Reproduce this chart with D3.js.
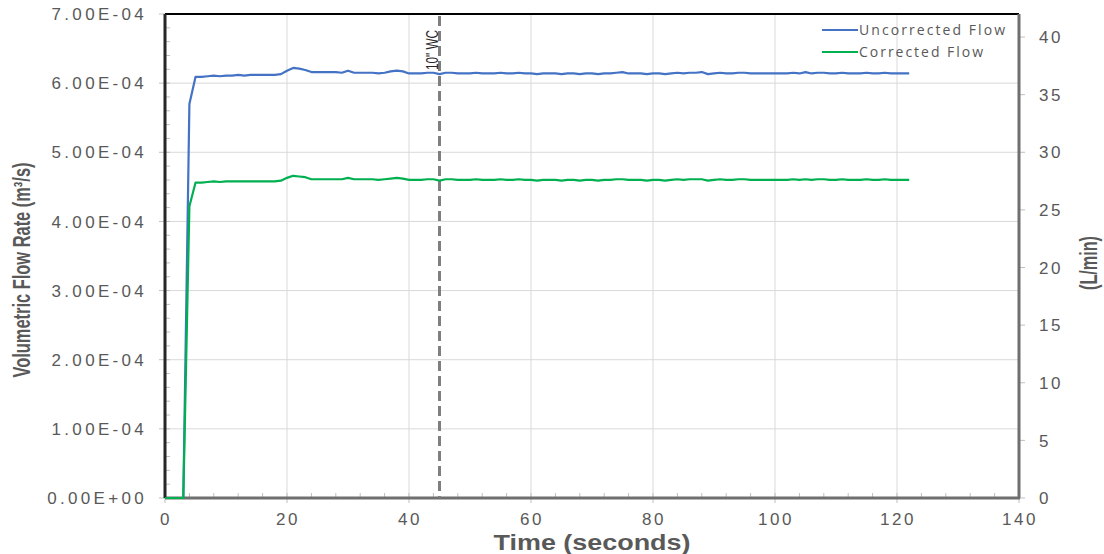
<!DOCTYPE html>
<html>
<head>
<meta charset="utf-8">
<script src="https://cdn.jsdelivr.net/npm/d3@7"></script>
<style>
  html, body { margin: 0; padding: 0; background: #fff; }
  svg { display: block; }
</style>
</head>
<body>
<svg id="chart" width="1104" height="554"></svg>
<script>
// ---- Data (flow in units of 1e-4 m^3/s, sampled each second) ----
const time = d3.range(0, 123);
const uncorrected = [
  0, 0, 0, 0, 5.70,
  6.09, 6.09, 6.10, 6.11, 6.10, 6.11, 6.11, 6.12, 6.11, 6.12, 6.12, 6.12, 6.12, 6.12, 6.13,
  6.18, 6.22, 6.21, 6.19, 6.16, 6.16, 6.16, 6.16, 6.16, 6.15,
  6.18, 6.15, 6.15, 6.15, 6.15, 6.14, 6.15, 6.17, 6.18, 6.17,
  6.14, 6.14, 6.14, 6.15, 6.15, 6.13, 6.15, 6.15, 6.14, 6.14,
  6.14, 6.15, 6.14, 6.14, 6.14, 6.15, 6.14, 6.14, 6.15, 6.14,
  6.14, 6.13, 6.14, 6.14, 6.14, 6.13, 6.14, 6.14, 6.13, 6.14,
  6.14, 6.13, 6.14, 6.14, 6.15, 6.16, 6.14, 6.14, 6.14, 6.13,
  6.14, 6.14, 6.13, 6.14, 6.15, 6.14, 6.15, 6.15, 6.16, 6.13,
  6.14, 6.15, 6.14, 6.14, 6.15, 6.15, 6.14, 6.14, 6.14, 6.14,
  6.14, 6.14, 6.14, 6.15, 6.14, 6.16, 6.14, 6.15, 6.15, 6.14,
  6.14, 6.15, 6.14, 6.14, 6.14, 6.15, 6.14, 6.14, 6.15, 6.14,
  6.14, 6.14, 6.14
];
const corrected = [
  0, 0, 0, 0, 4.22,
  4.56, 4.56, 4.57, 4.58, 4.57, 4.58, 4.58, 4.58, 4.58, 4.58, 4.58, 4.58, 4.58, 4.58, 4.59,
  4.63, 4.66, 4.65, 4.64, 4.61, 4.61, 4.61, 4.61, 4.61, 4.61,
  4.63, 4.61, 4.61, 4.61, 4.61, 4.60, 4.61, 4.62, 4.63, 4.62,
  4.60, 4.60, 4.60, 4.61, 4.61, 4.59, 4.61, 4.61, 4.60, 4.60,
  4.60, 4.61, 4.60, 4.60, 4.60, 4.61, 4.60, 4.60, 4.61, 4.60,
  4.60, 4.59, 4.60, 4.60, 4.60, 4.59, 4.60, 4.60, 4.59, 4.60,
  4.60, 4.59, 4.60, 4.60, 4.61, 4.61, 4.60, 4.60, 4.60, 4.59,
  4.60, 4.60, 4.59, 4.60, 4.61, 4.60, 4.61, 4.61, 4.61, 4.59,
  4.60, 4.61, 4.60, 4.60, 4.61, 4.61, 4.60, 4.60, 4.60, 4.60,
  4.60, 4.60, 4.60, 4.61, 4.60, 4.61, 4.60, 4.61, 4.61, 4.60,
  4.60, 4.61, 4.60, 4.60, 4.60, 4.61, 4.60, 4.60, 4.61, 4.60,
  4.60, 4.60, 4.60
];
const seriesNames = ["Uncorrected Flow", "Corrected Flow"];
const leftTicks = [0, 1, 2, 3, 4, 5, 6, 7];                 // ×1e-4
const leftTickLabels = ["0.00E+00","1.00E-04","2.00E-04","3.00E-04","4.00E-04","5.00E-04","6.00E-04","7.00E-04"];
const rightTicks = [0, 5, 10, 15, 20, 25, 30, 35, 40];      // L/min
const xTicks = [0, 20, 40, 60, 80, 100, 120, 140];
const markerTime = 45;
const markerLabel = "10\" WC";

// ---- Layout ----
const L = 165, R = 1019, T = 14, B = 498;
const svg = d3.select("#chart");
const x = d3.scaleLinear().domain([0, 140]).range([L, R]);
const y = d3.scaleLinear().domain([0, 7]).range([B, T]);
const y2 = d3.scaleLinear().domain([0, 42]).range([B, T]);

const textCol = "#595959";
const tickFont = "Liberation Sans, Arial, sans-serif";

// gridlines
svg.append("g").selectAll("line").data(xTicks.slice(1, -1)).join("line")
  .attr("x1", d => x(d)).attr("x2", d => x(d)).attr("y1", T).attr("y2", B)
  .attr("stroke", "#d9d9d9").attr("stroke-width", 1);
svg.append("g").selectAll("line").data(leftTicks.slice(1, -1)).join("line")
  .attr("x1", L).attr("x2", R).attr("y1", d => y(d)).attr("y2", d => y(d))
  .attr("stroke", "#d9d9d9").attr("stroke-width", 1);

// minor ticks
const yMinor = d3.range(0, 7.0001, 0.2).filter(v => Math.abs(v - Math.round(v)) > 1e-6);
svg.append("g").selectAll("line").data(yMinor).join("line")
  .attr("x1", L).attr("x2", L + 5).attr("y1", d => y(d)).attr("y2", d => y(d))
  .attr("stroke", "#bfbfbf").attr("stroke-width", 1);
const xMinor = d3.range(0, 140.001, 4).filter(v => v % 20 !== 0);
svg.append("g").selectAll("line").data(xMinor).join("line")
  .attr("x1", d => x(d)).attr("x2", d => x(d)).attr("y1", B).attr("y2", B - 5)
  .attr("stroke", "#bfbfbf").attr("stroke-width", 1);

// major ticks
svg.append("g").selectAll("line").data(leftTicks).join("line")
  .attr("x1", L - 6).attr("x2", L + 5).attr("y1", d => y(d)).attr("y2", d => y(d))
  .attr("stroke", "#bfbfbf").attr("stroke-width", 1);
svg.append("g").selectAll("line").data(xTicks).join("line")
  .attr("x1", d => x(d)).attr("x2", d => x(d)).attr("y1", B - 5).attr("y2", B + 5)
  .attr("stroke", "#bfbfbf").attr("stroke-width", 1);
svg.append("g").selectAll("line").data(rightTicks).join("line")
  .attr("x1", R).attr("x2", R + 6).attr("y1", d => y2(d)).attr("y2", d => y2(d))
  .attr("stroke", "#bfbfbf").attr("stroke-width", 1);

// plot border
svg.append("line").attr("x1", L).attr("x2", R).attr("y1", T).attr("y2", T)
  .attr("stroke", "#000").attr("stroke-width", 2);
svg.append("line").attr("x1", R).attr("x2", R).attr("y1", T).attr("y2", B)
  .attr("stroke", "#6f6f6f").attr("stroke-width", 3);
svg.append("line").attr("x1", L).attr("x2", R + 1).attr("y1", B).attr("y2", B)
  .attr("stroke", "#6f6f6f").attr("stroke-width", 3);
svg.append("line").attr("x1", L).attr("x2", L).attr("y1", T).attr("y2", B)
  .attr("stroke", "#262626").attr("stroke-width", 3);

// tick labels
svg.append("g").selectAll("text").data(leftTicks).join("text")
  .attr("x", 147).attr("y", d => y(d)).attr("dy", "0.36em")
  .attr("text-anchor", "end")
  .style("font-family", tickFont).style("font-size", "17px").style("letter-spacing", "3.3px")
  .attr("fill", textCol).text((d, i) => leftTickLabels[i]);
svg.append("g").selectAll("text").data(xTicks).join("text")
  .attr("x", d => x(d) + 1).attr("y", 525)
  .attr("text-anchor", "middle")
  .style("font-family", tickFont).style("font-size", "17px").style("letter-spacing", "2.6px")
  .attr("fill", textCol).text(d => d);
svg.append("g").selectAll("text").data(rightTicks).join("text")
  .attr("x", 1039).attr("y", d => y2(d)).attr("dy", "0.36em")
  .attr("text-anchor", "start")
  .style("font-family", tickFont).style("font-size", "17px").style("letter-spacing", "2.6px")
  .attr("fill", textCol).text(d => d);

// axis titles
const boldFont = "'Liberation Sans', Arial, sans-serif";
svg.append("text")
  .attr("transform", "translate(30,270) rotate(-90)")
  .attr("text-anchor", "middle")
  .style("font-family", boldFont).style("font-weight", "bold").style("font-size", "23px")
  .attr("textLength", 215).attr("lengthAdjust", "spacingAndGlyphs")
  .attr("fill", textCol)
  .text("Volumetric Flow Rate (m³/s)");
svg.append("text")
  .attr("transform", "translate(1097,263) rotate(-90)")
  .attr("text-anchor", "middle")
  .style("font-family", boldFont).style("font-weight", "bold").style("font-size", "23px")
  .attr("textLength", 54).attr("lengthAdjust", "spacingAndGlyphs")
  .attr("fill", textCol)
  .text("(L/min)");
svg.append("text")
  .attr("x", 592).attr("y", 550)
  .attr("text-anchor", "middle")
  .style("font-family", boldFont).style("font-weight", "bold").style("font-size", "22px")
  .attr("textLength", 197).attr("lengthAdjust", "spacingAndGlyphs")
  .attr("fill", textCol)
  .text("Time (seconds)");

// marker line
svg.append("line")
  .attr("x1", x(markerTime)).attr("x2", x(markerTime)).attr("y1", T + 2).attr("y2", B)
  .attr("stroke", "#7f7f7f").attr("stroke-width", 3).attr("stroke-dasharray", "10,5");
svg.append("text")
  .attr("transform", `translate(${x(markerTime) - 2},50) rotate(-90)`)
  .attr("text-anchor", "middle")
  .style("font-family", boldFont).style("font-size", "16px")
  .attr("textLength", 40).attr("lengthAdjust", "spacingAndGlyphs")
  .attr("fill", "#262626")
  .text(markerLabel);

// series
const colors = ["#4472C4", "#00B050"];
const seriesData = [uncorrected, corrected];
const line = d3.line().x((d, i) => x(time[i])).y(d => y(d));
seriesData.forEach((s, k) => {
  svg.append("path").datum(s)
    .attr("d", line)
    .attr("fill", "none").attr("stroke", colors[k]).attr("stroke-width", 2.2)
    .attr("stroke-linejoin", "round");
});

// legend
const legendLens = [146, 124];
const lg = svg.append("g");
seriesNames.forEach((name, k) => {
  const ly = 30 + k * 22;
  lg.append("line").attr("x1", 822).attr("x2", 858).attr("y1", ly).attr("y2", ly)
    .attr("stroke", colors[k]).attr("stroke-width", 2);
  lg.append("text").attr("x", 859).attr("y", ly).attr("dy", "0.36em")
    .style("font-family", "'Open Sans', sans-serif").style("font-size", "14px")
    .attr("textLength", legendLens[k]).attr("lengthAdjust", "spacing")
    .attr("fill", textCol).text(name);
});
</script>
</body>
</html>
